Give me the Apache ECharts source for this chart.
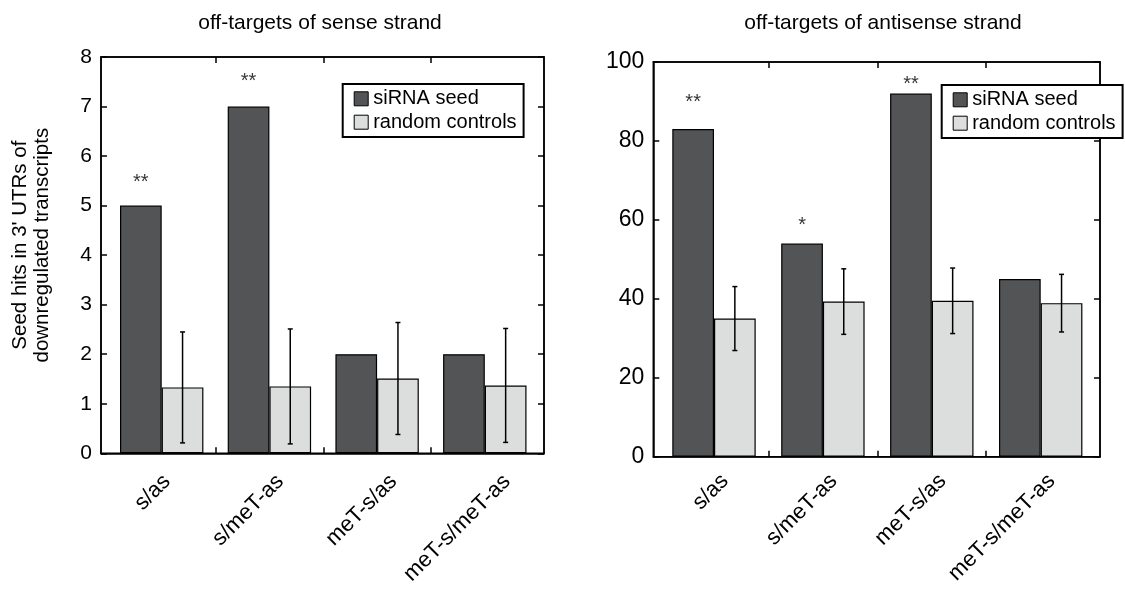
<!DOCTYPE html>
<html><head><meta charset="utf-8">
<script src="https://cdn.jsdelivr.net/npm/echarts@6/dist/echarts.min.js"></script>
<style>html,body{margin:0;padding:0;background:#fff}#c{width:1125px;height:593px}</style>
</head><body><div id="c"></div>
<script>
const categories = ['s/as', 's/meT-as', 'meT-s/as', 'meT-s/meT-as'];
const seriesNames = ['siRNA seed', 'random controls'];
// left panel: off-targets of sense strand
const senseSeed = [5, 7, 2, 2];
const senseRandom = [1.33, 1.35, 1.51, 1.37];
const senseErr = [1.12, 1.16, 1.13, 1.15];
const senseSig = ['**', '**', '', ''];
const senseSigY = [5.56, 7.61, null, null];
// right panel: off-targets of antisense strand
const antiSeed = [83, 54, 92, 45];
const antiRandom = [35.0, 39.3, 39.5, 38.9];
const antiErr = [8.1, 8.3, 8.3, 7.3];
const antiSig = ['**', '*', '**', ''];
const antiSigY = [91.1, 59.8, 95.5, null];
const yTitle = "Seed hits in 3' UTRs of\ndownregulated transcripts";

const FONT = 'Liberation Sans, Arial, Helvetica, sans-serif';
const BAR_W = 41.7;
const DARK = '#535456', LIGHT = '#dcdedd';

function panel(cfg) {
  const g = cfg.gBase, a = cfg.aBase;
  const grids = [
    {left: cfg.frame[0], top: cfg.top, width: cfg.frame[1], height: cfg.h, show: true, borderColor: '#000', borderWidth: 1.5, backgroundColor: 'transparent'},
    {left: cfg.bars[0], top: cfg.top, width: cfg.bars[1], height: cfg.h},
    {left: cfg.labels[0], top: cfg.top, width: cfg.labels[1], height: cfg.h}
  ];
  const tickX = {show: true, inside: true, length: 6, lineStyle: {color: '#000', width: 1.5}, customValues: [1.5, 2.5, 3.5]};
  const lineX = {show: true, onZero: false, lineStyle: {color: '#000', width: 1.5}};
  const xAxes = [
    {gridIndex: g, type: 'value', position: 'bottom', min: cfg.xr[0], max: cfg.xr[1], axisLine: lineX, axisTick: tickX, axisLabel: {show: false}, splitLine: {show: false}},
    {gridIndex: g, type: 'value', position: 'top', min: cfg.xr[0], max: cfg.xr[1], axisLine: lineX, axisTick: tickX, axisLabel: {show: false}, splitLine: {show: false}},
    {gridIndex: g + 1, type: 'category', data: categories, show: false, axisLine: {onZero: false}},
    {gridIndex: g + 2, type: 'category', data: categories, position: 'bottom', axisLine: {show: false, onZero: false}, axisTick: {show: false}, splitLine: {show: false},
      axisLabel: {rotate: 45, margin: cfg.labMargin, fontSize: 22, color: '#000', fontFamily: FONT, interval: 0}}
  ];
  const tickY = {show: true, inside: true, length: 6, lineStyle: {color: '#000', width: 1.5}};
  const lineY = {show: true, onZero: false, lineStyle: {color: '#000', width: 1.5}};
  const yAxes = [
    Object.assign({gridIndex: g, type: 'value', position: 'left', min: 0, max: cfg.ymax, interval: cfg.yint,
      axisLine: lineY, axisTick: tickY,
      axisLabel: {fontSize: cfg.yFont, color: '#000', fontFamily: FONT, margin: 9}, splitLine: {show: false}}, cfg.yName ? {
      name: yTitle, nameLocation: 'middle', nameRotate: 90, nameGap: 48,
      nameTextStyle: {fontSize: 20.5, lineHeight: 22, color: '#000', fontFamily: FONT, padding: [0, 0, 0, 20]}} : {}),
    {gridIndex: g, type: 'value', position: 'right', min: 0, max: cfg.ymax, interval: cfg.yint,
      axisLine: lineY, axisTick: tickY, axisLabel: {show: false}, splitLine: {show: false}},
    {gridIndex: g + 1, type: 'value', min: 0, max: cfg.ymax, show: false, splitLine: {show: false}},
    {gridIndex: g + 2, type: 'value', min: 0, max: cfg.ymax, show: false, splitLine: {show: false}}
  ];
  const xi = a + 2, yi = a + 2;
  const series = [
    {name: seriesNames[0], type: 'bar', xAxisIndex: xi, yAxisIndex: yi, data: cfg.seed, barWidth: BAR_W, barGap: '0%',
      itemStyle: {color: DARK, borderColor: '#000', borderWidth: 1.2}, animation: false},
    {name: seriesNames[1], type: 'bar', xAxisIndex: xi, yAxisIndex: yi, data: cfg.rand, barWidth: BAR_W, barGap: '0%',
      itemStyle: {color: LIGHT, borderColor: '#000', borderWidth: 1.2}, animation: false},
    {type: 'custom', xAxisIndex: xi, yAxisIndex: yi, z: 5, animation: false,
      data: categories.map((c, i) => [i, cfg.rand[i] - cfg.err[i], cfg.rand[i] + cfg.err[i]]),
      encode: {x: 0, y: [1, 2]},
      renderItem: function (params, api) {
        const lo = api.coord([api.value(0), api.value(1)]);
        const hi = api.coord([api.value(0), api.value(2)]);
        const x = lo[0] + BAR_W / 2, c = 2.5;
        const st = {stroke: '#000', lineWidth: 1.5};
        return {type: 'group', children: [
          {type: 'line', shape: {x1: x, y1: lo[1], x2: x, y2: hi[1]}, style: st},
          {type: 'line', shape: {x1: x - c, y1: lo[1], x2: x + c, y2: lo[1]}, style: st},
          {type: 'line', shape: {x1: x - c, y1: hi[1], x2: x + c, y2: hi[1]}, style: st}
        ]};
      }},
    {type: 'scatter', xAxisIndex: xi, yAxisIndex: yi, symbolSize: 0, z: 6, animation: false,
      data: categories.map((c, i) => [i, cfg.sigY[i]]).filter(d => d[1] != null),
      label: {show: true, position: 'inside', offset: [-BAR_W / 2, 5], fontSize: 20, color: '#000', fontFamily: FONT,
        formatter: p => cfg.sig[p.data[0]]}}
  ];
  const legend = {left: cfg.leg[0], top: cfg.leg[1], orient: 'vertical', data: seriesNames, selectedMode: false,
    icon: 'rect', itemWidth: 14, itemHeight: 14, itemGap: 3.4, itemTextGap: 5,
    padding: [4.8, 7, 4.8, 11], borderColor: '#000', borderWidth: 2, backgroundColor: '#fff',
    textStyle: {fontSize: 20, lineHeight: 20, color: '#000', fontFamily: FONT},
    itemStyle: {borderColor: '#000', borderWidth: 1}};
  const title = {text: cfg.title, left: cfg.titleX, top: 8, textAlign: 'center',
    textStyle: {fontSize: 21, fontWeight: 'normal', color: '#000', fontFamily: FONT}};
  return {grids, xAxes, yAxes, series, legend, title};
}

const L = panel({gBase: 0, aBase: 0, frame: [101, 443], bars: [107.85, 430.8], labels: [110.3, 453.3], top: 57, h: 396.3,
  xr: [0.436, 4.549], ymax: 8, yint: 1, yFont: 21, yName: true, labMargin: 25,
  seed: senseSeed, rand: senseRandom, err: senseErr, sig: senseSig, sigY: senseSigY,
  leg: [342.7, 84], title: 'off-targets of sense strand', titleX: 315});
const R = panel({gBase: 3, aBase: 4, frame: [653.3, 446.7], bars: [659.55, 435.6], labels: [670.5, 435.6], top: 62, h: 394.7,
  xr: [0.4426, 4.545], ymax: 100, yint: 20, yFont: 23, yName: false, labMargin: 21,
  seed: antiSeed, rand: antiRandom, err: antiErr, sig: antiSig, sigY: antiSigY,
  leg: [941.7, 85], title: 'off-targets of antisense strand', titleX: 878});

const chart = echarts.init(document.getElementById('c'), null, {renderer: 'canvas'});
chart.setOption({
  animation: false,
  backgroundColor: '#fff',
  title: [L.title, R.title],
  legend: [L.legend, R.legend],
  grid: L.grids.concat(R.grids),
  xAxis: L.xAxes.concat(R.xAxes),
  yAxis: L.yAxes.concat(R.yAxes),
  series: L.series.concat(R.series)
});
</script>
</body></html>
